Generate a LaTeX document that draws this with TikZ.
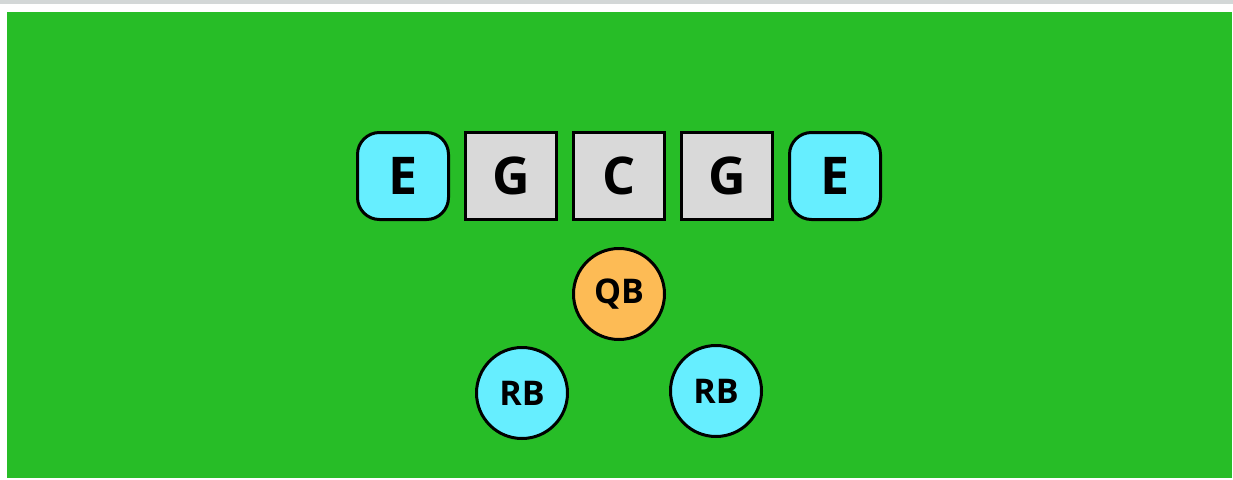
\documentclass[tikz,border=0pt]{standalone}
\usepackage{fontspec}
\setmainfont{Open Sans}
\definecolor{field}{HTML}{27BD27}
\definecolor{endc}{HTML}{66EEFF}
\definecolor{linec}{HTML}{D9D9D9}
\definecolor{qbc}{HTML}{FDBB55}
\definecolor{topbar}{HTML}{D3D7D7}
\begin{document}
\begin{tikzpicture}[x=1pt,y=-1pt,
  player/.style={draw=black,line width=3pt,minimum width=91pt,minimum height=87pt,inner sep=0pt,font=\fontsize{52}{52}\selectfont\bfseries},
  endbox/.style={player,fill=endc,rounded corners=22pt},
  linebox/.style={player,fill=linec},
  back/.style={draw=black,line width=3pt,circle,minimum size=91pt,inner sep=0pt,font=\fontsize{34}{34}\selectfont\bfseries}]
\useasboundingbox (0,0) rectangle (1233,479);
\fill[white] (0,0) rectangle (1233,479);
\fill[topbar] (0,0) rectangle (1233,4);
\fill[field] (7,12) rectangle (1232,478);
\node[endbox] (e1) at (403,176) {E};
\node[linebox] (g1) at (511,176) {G};
\node[linebox] (c) at (619,176) {C};
\node[linebox] (g2) at (727,176) {G};
\node[endbox] (e2) at (835,176) {E};
\node[back,fill=qbc] (qb) at (619,294) {QB};
\node[back,fill=endc] (rb1) at (522,393) {RB};
\node[back,fill=endc] (rb2) at (716,391) {RB};
\end{tikzpicture}
\end{document}
